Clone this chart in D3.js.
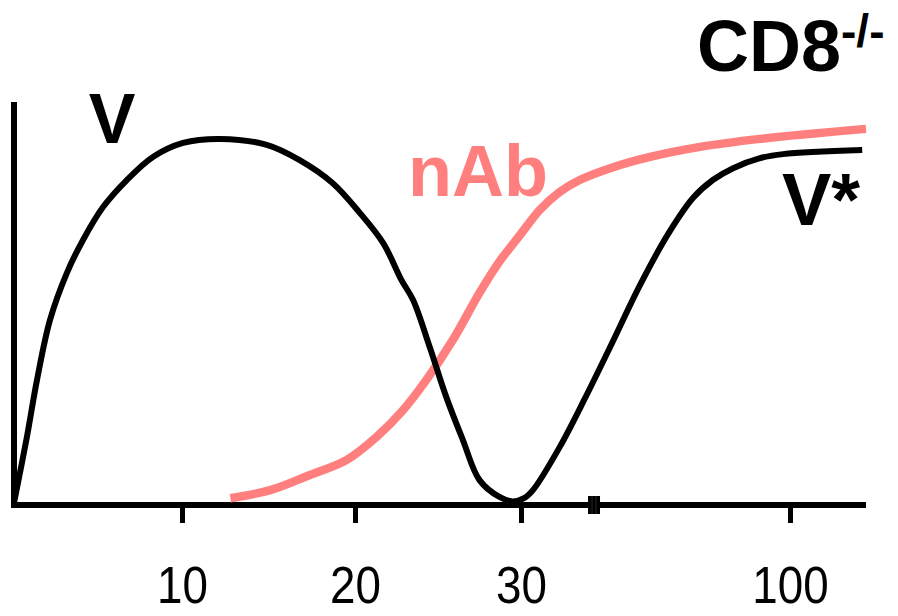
<!DOCTYPE html>
<html lang="en">
  <head>
    <meta charset="utf-8">
    <title>CD8-/- V and nAb</title>
    <script src="https://cdn.jsdelivr.net/npm/d3@7/dist/d3.min.js"></script>
    <style>
      body { margin: 0; background: #fff; }
      svg text { font-family: "Liberation Sans", Arial, sans-serif; }
    </style>
  </head>
  <body>
    <script>
      // tick positions on the (broken) time axis
      var tickValues = [10, 20, 30, 100];
      var tickLabels = ["10", "20", "30", "100"];
      var breakAt = 49;

      // virus V (black)
      var vX = [0, 0.77, 1.37, 2.14, 3.15, 4.11, 5.30, 6.73, 8.27, 10.06, 12.2, 14.9, 16.8, 18.7, 20.3, 21.7, 22.8, 23.5, 24.5, 25.5, 26.5, 27.5, 28.7, 29.5, 30.8, 33.1, 40.1, 46.7, 53.2, 61.0, 68.3, 74.8, 80.0, 85.2, 92.2, 98.2, 119];
      var vY = [0, 16.5, 30.7, 45.6, 57.4, 65.6, 73.8, 80.6, 86.3, 89.8, 90.8, 89.3, 85.5, 79.8, 72.3, 64.8, 55.6, 50.6, 38.9, 26.4, 15.7, 5.7, 1.5, 0.4, 1.2, 3.2, 14.0, 26.2, 38.9, 54.4, 67.1, 76.1, 80.6, 83.5, 86.0, 87.0, 88.0];

      // neutralising antibody nAb (pink)
      var abX = [12.8, 15.1, 17.4, 19.5, 21.3, 22.9, 24.3, 25.9, 27.5, 28.7, 29.9, 34.9, 40.1, 45.4, 53.2, 63.6, 76.6, 92.2, 120];
      var abY = [1.2, 3.2, 7.0, 10.7, 16.5, 23.2, 30.7, 40.7, 52.4, 60.2, 66.6, 73.1, 77.6, 80.6, 83.5, 86.3, 88.8, 90.8, 93.3];

      var W = 898, H = 616;
      var pink = "#ff7f7f";

      var svg = d3.select("body").append("svg")
        .attr("width", W)
        .attr("height", H);

      // piecewise scale so the part after the break is compressed
      var xScale = d3.scaleLinear()
        .domain([0, 10, 20, 30, 100, 120])
        .range([14, 182, 355, 521, 790, 866]);

      var yScale = d3.scaleLinear()
        .domain([0, 100])
        .range([503, 102]);

      var line = d3.line()
        .x(function(d) { return xScale(d[0]); })
        .y(function(d) { return yScale(d[1]); })
        .curve(d3.curveCatmullRom.alpha(0.5));

      var vData = vX.map(function(x, i) { return [x, vY[i]]; });
      var abData = abX.map(function(x, i) { return [x, abY[i]]; });

      // axes
      var xAxis = d3.axisBottom(xScale)
        .tickValues(tickValues)
        .tickSize(20)
        .tickFormat(function(d, i) { return tickLabels[i]; });

      var gx = svg.append("g")
        .attr("transform", "translate(0," + yScale(0) + ")")
        .call(xAxis);
      gx.select(".domain").remove();
      gx.selectAll(".tick line")
        .attr("stroke", "#000")
        .attr("stroke-width", 5);
      gx.selectAll(".tick text")
        .attr("y", 0)
        .attr("dy", 0)
        .attr("fill", "#000")
        .attr("font-size", 52)
        .attr("transform", "translate(0,100) scale(0.88,1)");

      svg.append("line")
        .attr("x1", xScale(0) - 3).attr("x2", xScale(120))
        .attr("y1", yScale(0) + 2).attr("y2", yScale(0) + 2)
        .attr("stroke", "#000").attr("stroke-width", 6);

      svg.append("line")
        .attr("x1", xScale(0)).attr("x2", xScale(0))
        .attr("y1", yScale(100)).attr("y2", yScale(0) + 5)
        .attr("stroke", "#000").attr("stroke-width", 6);

      // axis break marker
      var bx = xScale(breakAt);
      svg.append("rect")
        .attr("x", bx - 6).attr("y", yScale(0) - 7)
        .attr("width", 12).attr("height", 18)
        .attr("fill", "#000");
      [-2, 2].forEach(function(o) {
        svg.append("line")
          .attr("x1", bx + o).attr("x2", bx + o)
          .attr("y1", yScale(0) - 7).attr("y2", yScale(0) + 11)
          .attr("stroke", "#333").attr("stroke-width", 0.8);
      });

      // curves
      svg.append("path")
        .datum(abData)
        .attr("d", line)
        .attr("fill", "none")
        .attr("stroke", pink)
        .attr("stroke-width", 8.5);

      svg.append("path")
        .datum(vData)
        .attr("d", line)
        .attr("fill", "none")
        .attr("stroke", "#000")
        .attr("stroke-width", 6);

      // labels
      svg.append("text")
        .attr("x", 112).attr("y", 143)
        .attr("text-anchor", "middle")
        .attr("font-size", 70).attr("font-weight", "bold")
        .text("V");

      svg.append("text")
        .attr("x", 408).attr("y", 196)
        .attr("font-size", 72).attr("font-weight", "bold")
        .attr("fill", pink)
        .text("nAb");

      svg.append("text")
        .attr("x", 782).attr("y", 225)
        .attr("font-size", 74).attr("font-weight", "bold")
        .text("V*");

      var title = svg.append("text")
        .attr("x", 697).attr("y", 71)
        .attr("font-size", 72).attr("font-weight", "bold");
      title.append("tspan").text("CD8");
      title.append("tspan")
        .attr("font-size", 46)
        .attr("dy", -24)
        .text("-/-");
    </script>
  </body>
</html>
